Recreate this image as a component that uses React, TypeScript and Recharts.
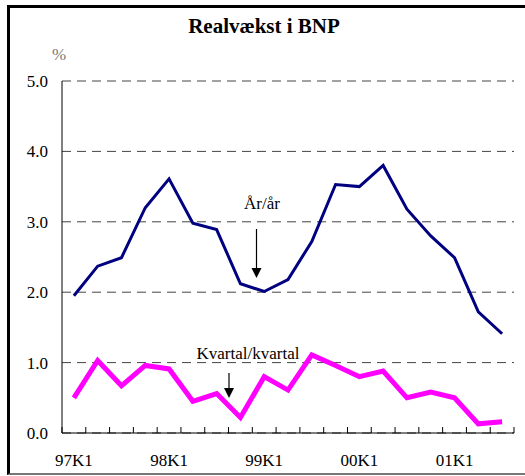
import React from 'react';
import { LineChart, Line, XAxis, YAxis, CartesianGrid } from 'recharts';

const quarters = [
  '97K1', '97K2', '97K3', '97K4',
  '98K1', '98K2', '98K3', '98K4',
  '99K1', '99K2', '99K3', '99K4',
  '00K1', '00K2', '00K3', '00K4',
  '01K1', '01K2', '01K3',
];
const aarAar = [1.95, 2.37, 2.49, 3.2, 3.61, 2.98, 2.89, 2.12, 2.01, 2.18, 2.72, 3.53, 3.5, 3.8, 3.18, 2.8, 2.49, 1.72, 1.41];
const kvartal = [0.5, 1.03, 0.67, 0.96, 0.91, 0.45, 0.56, 0.22, 0.8, 0.61, 1.11, 0.96, 0.8, 0.88, 0.5, 0.58, 0.5, 0.13, 0.16];
const yTicks = [0, 1, 2, 3, 4, 5];

const chartData = quarters.map((q, i) => ({ q, aar: aarAar[i], kv: kvartal[i] }));

const W = 525;
const H = 476;
const LEFT = 62;
const RIGHT = 11;
const BAND = (W - LEFT - RIGHT) / quarters.length;
const serif = '"Liberation Serif", "Times New Roman", serif';

const QuarterTick = ({ x, y, payload, index }: any) => {
  const left = x - BAND / 2;
  return (
    <g>
      <line x1={left} x2={left} y1={y - 6} y2={y} stroke="#000" />
      {index === quarters.length - 1 && (
        <line x1={x + BAND / 2} x2={x + BAND / 2} y1={y - 6} y2={y} stroke="#000" />
      )}
      {payload.value.endsWith('K1') && (
        <text x={x} y={y + 33} textAnchor="middle" fontSize={17} fontFamily={serif} fill="#000">
          {payload.value}
        </text>
      )}
    </g>
  );
};

const Arrow = ({ x, y1, y2 }: { x: number; y1: number; y2: number }) => (
  <g>
    <line x1={x} x2={x} y1={y1} y2={y2 - 8} stroke="#000" strokeWidth={1.2} />
    <polygon points={`${x - 5},${y2 - 10} ${x + 5},${y2 - 10} ${x},${y2}`} fill="#000" />
  </g>
);

export default function App() {
  return (
    <div style={{ position: 'absolute', left: 0, top: 0, width: W, height: H, background: '#fff', overflow: 'hidden' }}>
      <div
        style={{
          position: 'absolute', left: 7, top: 5, right: -10, bottom: 1,
          borderTop: '3px solid #000', borderLeft: '3px solid #000', borderBottom: '2px solid #777',
        }}
      />
      <div style={{ position: 'absolute', left: 0, top: 0 }}>
        <LineChart width={W} height={H} data={chartData} margin={{ top: 81, right: RIGHT, left: 0, bottom: 0 }}>
          <CartesianGrid horizontal vertical={false} stroke="#444" strokeDasharray="9 6" />
          <XAxis
            dataKey="q"
            scale="band"
            height={43}
            interval={0}
            tickLine={false}
            tickSize={0}
            tickMargin={0}
            axisLine={{ stroke: '#000' }}
            tick={<QuarterTick />}
          />
          <YAxis
            width={LEFT}
            domain={[0, 5]}
            ticks={yTicks}
            interval={0}
            tickFormatter={(v: number) => v.toFixed(1)}
            tickSize={4}
            tickMargin={10}
            tickLine={false}
            axisLine={{ stroke: '#000' }}
            tick={{ fill: '#000', fontSize: 17, fontFamily: serif }}
          />
          <Line dataKey="aar" type="linear" stroke="#000080" strokeWidth={3} dot={false} isAnimationActive={false} />
          <Line dataKey="kv" type="linear" stroke="#ff00ff" strokeWidth={5} dot={false} isAnimationActive={false} />
        </LineChart>
      </div>
      <svg width={W} height={H} style={{ position: 'absolute', left: 0, top: 0, pointerEvents: 'none' }}>
        <text x={264} y={33} textAnchor="middle" fontSize={21} fontWeight="bold" fontFamily={serif} fill="#000">
          Realvækst i BNP
        </text>
        <text x={59} y={60} textAnchor="middle" fontSize={17} fontFamily={serif} fill="#777">%</text>
        <text x={262} y={209} textAnchor="middle" fontSize={17} fontFamily={serif} fill="#000">År/år</text>
        <Arrow x={256.5} y1={229} y2={278} />
        <text x={248} y={359} textAnchor="middle" fontSize={17} fontFamily={serif} fill="#000">Kvartal/kvartal</text>
        <Arrow x={229} y1={373} y2={398} />
      </svg>
    </div>
  );
}
